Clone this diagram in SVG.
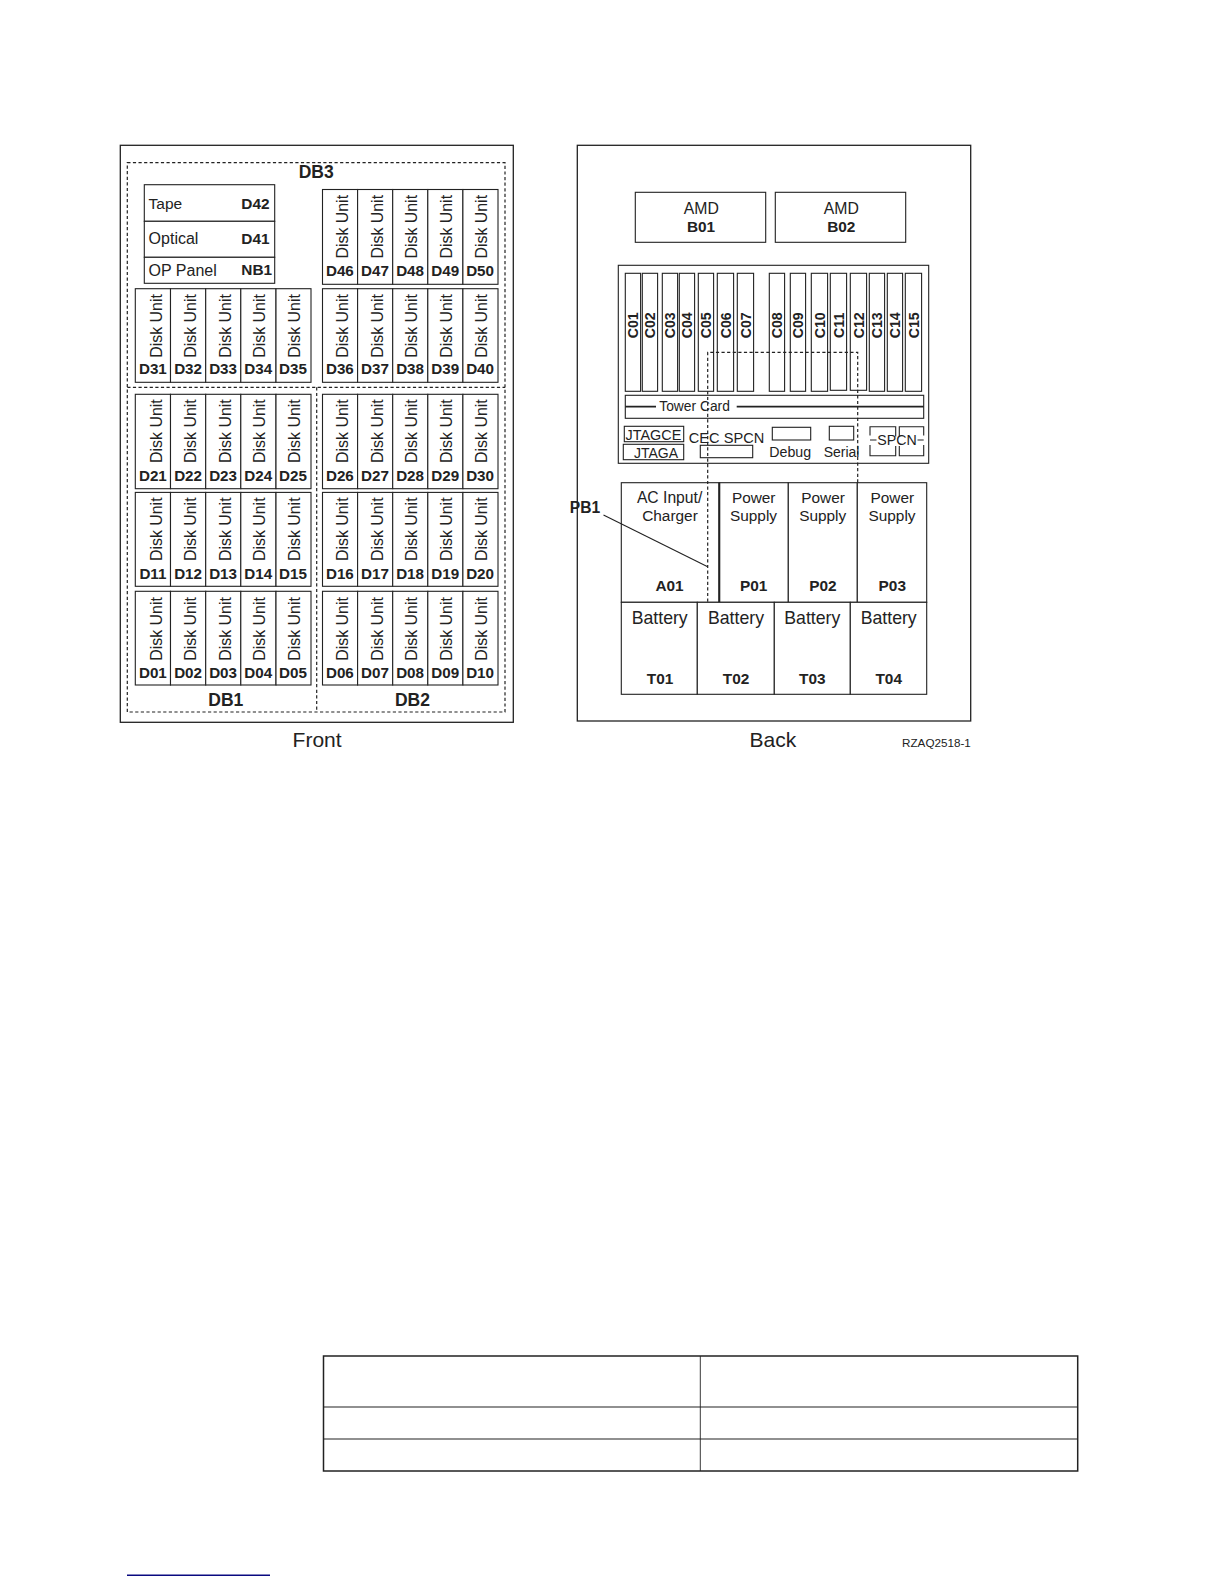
<svg xmlns="http://www.w3.org/2000/svg" width="1224" height="1584" viewBox="0 0 1224 1584">
<style>
text{font-family:"Liberation Sans",Arial,sans-serif;fill:#222;font-size:15px}
.b{font-weight:bold;font-size:15.4px}
.m{text-anchor:middle}
.f{fill:#fff;stroke:#222;stroke-width:1.1}
.n{fill:none;stroke:#222;stroke-width:1.1}
.o{fill:#fff;stroke:#222;stroke-width:1.3}
.d{fill:none;stroke:#222;stroke-width:1.2;stroke-dasharray:3.2 2.4}
.l{font-size:15.2px;font-weight:bold;text-anchor:middle}
.u{font-size:15.9px}
.c{font-size:14.2px;font-weight:bold;text-anchor:middle}
.db{font-size:17.5px;font-weight:bold;text-anchor:middle}
.p{text-anchor:middle;font-size:15.4px}
.bt{text-anchor:middle;font-size:17.7px}
.cap{font-size:21px}
</style>
<rect width="1224" height="1584" fill="#fff"/>
<g id="front">
<rect class="o" x="120.3" y="145.3" width="393" height="577"/>
<g id="DB-regions">
<rect class="d" x="127.3" y="162.7" width="377.7" height="549.3"/>
<path class="d" d="M127.3 387.3H505M316.7 387.3V712"/>
</g>
<text class="db" x="316.2" y="178.3">DB3</text>
<text class="db" x="225.8" y="706">DB1</text>
<text class="db" x="412.5" y="706">DB2</text>
<g id="D42"><rect class="f" x="144.3" y="184.7" width="130.4" height="36.6"/><text x="148.6" y="209" style="font-size:15.5px">Tape</text><text class="b" x="241.3" y="209">D42</text></g>
<g id="D41"><rect class="f" x="144.3" y="221.3" width="130.4" height="36"/><text x="148.6" y="244.3" style="font-size:16px">Optical</text><text class="b" x="241.3" y="243.7">D41</text></g>
<g id="NB1"><rect class="f" x="144.3" y="257.3" width="130.4" height="26"/><text x="148.6" y="275.7" style="font-size:16px">OP Panel</text><text class="b" x="241.3" y="275">NB1</text></g>

<g id="D46" transform="translate(322.5,189.5)"><rect class="f" width="35.1" height="94.8"/><text class="u" transform="translate(25.8,69) rotate(-90)">Disk Unit</text><text class="l" x="17.4" y="86.3">D46</text></g>
<g id="D47" transform="translate(357.6,189.5)"><rect class="f" width="35.1" height="94.8"/><text class="u" transform="translate(25.1,69) rotate(-90)">Disk Unit</text><text class="l" x="17.4" y="86.3">D47</text></g>
<g id="D48" transform="translate(392.7,189.5)"><rect class="f" width="35.1" height="94.8"/><text class="u" transform="translate(24.6,69) rotate(-90)">Disk Unit</text><text class="l" x="17.4" y="86.3">D48</text></g>
<g id="D49" transform="translate(427.8,189.5)"><rect class="f" width="35.1" height="94.8"/><text class="u" transform="translate(24.5,69) rotate(-90)">Disk Unit</text><text class="l" x="17.4" y="86.3">D49</text></g>
<g id="D50" transform="translate(462.9,189.5)"><rect class="f" width="35.1" height="94.8"/><text class="u" transform="translate(24.4,69) rotate(-90)">Disk Unit</text><text class="l" x="17.2" y="86.3">D50</text></g>

<g id="D31" transform="translate(135.3,288.7)"><rect class="f" width="35.2" height="93.6"/><text class="u" transform="translate(26.3,69) rotate(-90)">Disk Unit</text><text class="l" x="17.6" y="85.5">D31</text></g>
<g id="D32" transform="translate(170.5,288.7)"><rect class="f" width="35.2" height="93.6"/><text class="u" transform="translate(25.5,69) rotate(-90)">Disk Unit</text><text class="l" x="17.6" y="85.5">D32</text></g>
<g id="D33" transform="translate(205.7,288.7)"><rect class="f" width="35.1" height="93.6"/><text class="u" transform="translate(25,69) rotate(-90)">Disk Unit</text><text class="l" x="17.4" y="85.5">D33</text></g>
<g id="D34" transform="translate(240.8,288.7)"><rect class="f" width="35.2" height="93.6"/><text class="u" transform="translate(24.2,69) rotate(-90)">Disk Unit</text><text class="l" x="17.4" y="85.5">D34</text></g>
<g id="D35" transform="translate(276,288.7)"><rect class="f" width="35" height="93.6"/><text class="u" transform="translate(24,69) rotate(-90)">Disk Unit</text><text class="l" x="17" y="85.5">D35</text></g>
<g id="D36" transform="translate(322.5,288.7)"><rect class="f" width="35.1" height="93.6"/><text class="u" transform="translate(25.8,69) rotate(-90)">Disk Unit</text><text class="l" x="17.4" y="85.5">D36</text></g>
<g id="D37" transform="translate(357.6,288.7)"><rect class="f" width="35.1" height="93.6"/><text class="u" transform="translate(25.1,69) rotate(-90)">Disk Unit</text><text class="l" x="17.4" y="85.5">D37</text></g>
<g id="D38" transform="translate(392.7,288.7)"><rect class="f" width="35.1" height="93.6"/><text class="u" transform="translate(24.6,69) rotate(-90)">Disk Unit</text><text class="l" x="17.4" y="85.5">D38</text></g>
<g id="D39" transform="translate(427.8,288.7)"><rect class="f" width="35.1" height="93.6"/><text class="u" transform="translate(24.5,69) rotate(-90)">Disk Unit</text><text class="l" x="17.4" y="85.5">D39</text></g>
<g id="D40" transform="translate(462.9,288.7)"><rect class="f" width="35.1" height="93.6"/><text class="u" transform="translate(24.4,69) rotate(-90)">Disk Unit</text><text class="l" x="17.2" y="85.5">D40</text></g>

<g id="D21" transform="translate(135.3,394.3)"><rect class="f" width="35.2" height="94.4"/><text class="u" transform="translate(26.3,68.6) rotate(-90)">Disk Unit</text><text class="l" x="17.6" y="86.6">D21</text></g>
<g id="D22" transform="translate(170.5,394.3)"><rect class="f" width="35.2" height="94.4"/><text class="u" transform="translate(25.5,68.6) rotate(-90)">Disk Unit</text><text class="l" x="17.6" y="86.6">D22</text></g>
<g id="D23" transform="translate(205.7,394.3)"><rect class="f" width="35.1" height="94.4"/><text class="u" transform="translate(25,68.6) rotate(-90)">Disk Unit</text><text class="l" x="17.4" y="86.6">D23</text></g>
<g id="D24" transform="translate(240.8,394.3)"><rect class="f" width="35.2" height="94.4"/><text class="u" transform="translate(24.2,68.6) rotate(-90)">Disk Unit</text><text class="l" x="17.4" y="86.6">D24</text></g>
<g id="D25" transform="translate(276,394.3)"><rect class="f" width="35" height="94.4"/><text class="u" transform="translate(24,68.6) rotate(-90)">Disk Unit</text><text class="l" x="17" y="86.6">D25</text></g>
<g id="D26" transform="translate(322.5,394.3)"><rect class="f" width="35.1" height="94.4"/><text class="u" transform="translate(25.8,68.6) rotate(-90)">Disk Unit</text><text class="l" x="17.4" y="86.6">D26</text></g>
<g id="D27" transform="translate(357.6,394.3)"><rect class="f" width="35.1" height="94.4"/><text class="u" transform="translate(25.1,68.6) rotate(-90)">Disk Unit</text><text class="l" x="17.4" y="86.6">D27</text></g>
<g id="D28" transform="translate(392.7,394.3)"><rect class="f" width="35.1" height="94.4"/><text class="u" transform="translate(24.6,68.6) rotate(-90)">Disk Unit</text><text class="l" x="17.4" y="86.6">D28</text></g>
<g id="D29" transform="translate(427.8,394.3)"><rect class="f" width="35.1" height="94.4"/><text class="u" transform="translate(24.5,68.6) rotate(-90)">Disk Unit</text><text class="l" x="17.4" y="86.6">D29</text></g>
<g id="D30" transform="translate(462.9,394.3)"><rect class="f" width="35.1" height="94.4"/><text class="u" transform="translate(24.4,68.6) rotate(-90)">Disk Unit</text><text class="l" x="17.2" y="86.6">D30</text></g>

<g id="D11" transform="translate(135.3,492.4)"><rect class="f" width="35.2" height="93.9"/><text class="u" transform="translate(26.3,68.6) rotate(-90)">Disk Unit</text><text class="l" x="17.6" y="86.6">D11</text></g>
<g id="D12" transform="translate(170.5,492.4)"><rect class="f" width="35.2" height="93.9"/><text class="u" transform="translate(25.5,68.6) rotate(-90)">Disk Unit</text><text class="l" x="17.6" y="86.6">D12</text></g>
<g id="D13" transform="translate(205.7,492.4)"><rect class="f" width="35.1" height="93.9"/><text class="u" transform="translate(25,68.6) rotate(-90)">Disk Unit</text><text class="l" x="17.4" y="86.6">D13</text></g>
<g id="D14" transform="translate(240.8,492.4)"><rect class="f" width="35.2" height="93.9"/><text class="u" transform="translate(24.2,68.6) rotate(-90)">Disk Unit</text><text class="l" x="17.4" y="86.6">D14</text></g>
<g id="D15" transform="translate(276,492.4)"><rect class="f" width="35" height="93.9"/><text class="u" transform="translate(24,68.6) rotate(-90)">Disk Unit</text><text class="l" x="17" y="86.6">D15</text></g>
<g id="D16" transform="translate(322.5,492.4)"><rect class="f" width="35.1" height="93.9"/><text class="u" transform="translate(25.8,68.6) rotate(-90)">Disk Unit</text><text class="l" x="17.4" y="86.6">D16</text></g>
<g id="D17" transform="translate(357.6,492.4)"><rect class="f" width="35.1" height="93.9"/><text class="u" transform="translate(25.1,68.6) rotate(-90)">Disk Unit</text><text class="l" x="17.4" y="86.6">D17</text></g>
<g id="D18" transform="translate(392.7,492.4)"><rect class="f" width="35.1" height="93.9"/><text class="u" transform="translate(24.6,68.6) rotate(-90)">Disk Unit</text><text class="l" x="17.4" y="86.6">D18</text></g>
<g id="D19" transform="translate(427.8,492.4)"><rect class="f" width="35.1" height="93.9"/><text class="u" transform="translate(24.5,68.6) rotate(-90)">Disk Unit</text><text class="l" x="17.4" y="86.6">D19</text></g>
<g id="D20" transform="translate(462.9,492.4)"><rect class="f" width="35.1" height="93.9"/><text class="u" transform="translate(24.4,68.6) rotate(-90)">Disk Unit</text><text class="l" x="17.2" y="86.6">D20</text></g>

<g id="D01" transform="translate(135.3,591.3)"><rect class="f" width="35.2" height="93.7"/><text class="u" transform="translate(26.3,69.4) rotate(-90)">Disk Unit</text><text class="l" x="17.6" y="86.4">D01</text></g>
<g id="D02" transform="translate(170.5,591.3)"><rect class="f" width="35.2" height="93.7"/><text class="u" transform="translate(25.5,69.4) rotate(-90)">Disk Unit</text><text class="l" x="17.6" y="86.4">D02</text></g>
<g id="D03" transform="translate(205.7,591.3)"><rect class="f" width="35.1" height="93.7"/><text class="u" transform="translate(25,69.4) rotate(-90)">Disk Unit</text><text class="l" x="17.4" y="86.4">D03</text></g>
<g id="D04" transform="translate(240.8,591.3)"><rect class="f" width="35.2" height="93.7"/><text class="u" transform="translate(24.2,69.4) rotate(-90)">Disk Unit</text><text class="l" x="17.4" y="86.4">D04</text></g>
<g id="D05" transform="translate(276,591.3)"><rect class="f" width="35" height="93.7"/><text class="u" transform="translate(24,69.4) rotate(-90)">Disk Unit</text><text class="l" x="17" y="86.4">D05</text></g>
<g id="D06" transform="translate(322.5,591.3)"><rect class="f" width="35.1" height="93.7"/><text class="u" transform="translate(25.8,69.4) rotate(-90)">Disk Unit</text><text class="l" x="17.4" y="86.4">D06</text></g>
<g id="D07" transform="translate(357.6,591.3)"><rect class="f" width="35.1" height="93.7"/><text class="u" transform="translate(25.1,69.4) rotate(-90)">Disk Unit</text><text class="l" x="17.4" y="86.4">D07</text></g>
<g id="D08" transform="translate(392.7,591.3)"><rect class="f" width="35.1" height="93.7"/><text class="u" transform="translate(24.6,69.4) rotate(-90)">Disk Unit</text><text class="l" x="17.4" y="86.4">D08</text></g>
<g id="D09" transform="translate(427.8,591.3)"><rect class="f" width="35.1" height="93.7"/><text class="u" transform="translate(24.5,69.4) rotate(-90)">Disk Unit</text><text class="l" x="17.4" y="86.4">D09</text></g>
<g id="D10" transform="translate(462.9,591.3)"><rect class="f" width="35.1" height="93.7"/><text class="u" transform="translate(24.4,69.4) rotate(-90)">Disk Unit</text><text class="l" x="17.2" y="86.4">D10</text></g>
<text class="cap" x="292.6" y="747.3">Front</text>
</g>

<g id="back">
<rect class="o" x="577.3" y="145.3" width="393.4" height="575.7"/>
<g id="B01"><rect class="f" x="635.3" y="192.3" width="130.4" height="50"/><text class="m" x="701.3" y="213.7" style="font-size:15.8px">AMD</text><text class="b m" x="701" y="232">B01</text></g>
<g id="B02"><rect class="f" x="775.3" y="192.3" width="130.4" height="50"/><text class="m" x="841.3" y="213.7" style="font-size:15.8px">AMD</text><text class="b m" x="841.3" y="232">B02</text></g>
<rect class="f" x="618.3" y="265.3" width="310.4" height="198"/>
<g id="C01"><rect class="f" x="625.3" y="273.3" width="15.3" height="118"/><text class="c" transform="translate(638.3,325.3) rotate(-90)">C01</text></g>
<g id="C02"><rect class="f" x="642.3" y="273.3" width="15.3" height="118"/><text class="c" transform="translate(655.3,325.3) rotate(-90)">C02</text></g>
<g id="C03"><rect class="f" x="662.3" y="273.3" width="15.3" height="118"/><text class="c" transform="translate(675.3,325.3) rotate(-90)">C03</text></g>
<g id="C04"><rect class="f" x="679.3" y="273.3" width="15.3" height="118"/><text class="c" transform="translate(692.3,325.3) rotate(-90)">C04</text></g>
<g id="C05"><rect class="f" x="698.3" y="273.3" width="15.3" height="118"/><text class="c" transform="translate(711.3,325.3) rotate(-90)">C05</text></g>
<g id="C06"><rect class="f" x="717.3" y="273.3" width="16.3" height="118"/><text class="c" transform="translate(730.8,325.3) rotate(-90)">C06</text></g>
<g id="C07"><rect class="f" x="737.3" y="273.3" width="16.3" height="118"/><text class="c" transform="translate(750.8,325.3) rotate(-90)">C07</text></g>
<g id="C08"><rect class="f" x="769.3" y="273.3" width="15.3" height="118"/><text class="c" transform="translate(782.3,325.3) rotate(-90)">C08</text></g>
<g id="C09"><rect class="f" x="790.3" y="273.3" width="15.3" height="118"/><text class="c" transform="translate(803.3,325.3) rotate(-90)">C09</text></g>
<g id="C10"><rect class="f" x="811.3" y="273.3" width="16.3" height="118"/><text class="c" transform="translate(824.8,325.3) rotate(-90)">C10</text></g>
<g id="C11"><rect class="f" x="830.3" y="273.3" width="16.3" height="117"/><text class="c" transform="translate(843.8,325.3) rotate(-90)">C11</text></g>
<g id="C12"><rect class="f" x="850.3" y="273.3" width="16.3" height="117"/><text class="c" transform="translate(863.8,325.3) rotate(-90)">C12</text></g>
<g id="C13"><rect class="f" x="869.3" y="273.3" width="15.3" height="118"/><text class="c" transform="translate(882.3,325.3) rotate(-90)">C13</text></g>
<g id="C14"><rect class="f" x="887.3" y="273.3" width="15.3" height="118"/><text class="c" transform="translate(900.3,325.3) rotate(-90)">C14</text></g>
<g id="C15"><rect class="f" x="905.3" y="273.3" width="16.3" height="118"/><text class="c" transform="translate(918.8,325.3) rotate(-90)">C15</text></g>
<g id="tower-card"><rect class="f" x="625.3" y="395.3" width="298.4" height="23"/><path class="n" style="stroke-width:1.7" d="M625.3 406.7H656M736.7 406.7H923.7"/><text x="659.3" y="411" style="font-size:13.8px">Tower Card</text></g>
<g id="JTAGCE"><rect class="f" x="624.3" y="426.3" width="59.4" height="15.4"/><text x="625.6" y="440.3" style="font-size:14.4px">JTAGCE</text></g>
<g id="JTAGA"><rect class="f" x="623.3" y="444.3" width="60.4" height="15.4"/><text x="634" y="457.7" style="font-size:14px">JTAGA</text></g>
<g id="CEC-SPCN"><text x="688.8" y="442.7" style="font-size:14.6px">CEC SPCN</text><rect class="n" x="700.3" y="445.3" width="52.4" height="12.4"/></g>
<g id="Debug"><rect class="n" x="772.3" y="427.3" width="38.4" height="12.7"/><text x="769.3" y="457.3" style="font-size:14.2px">Debug</text></g>
<g id="Serial"><rect class="n" x="829.3" y="426.3" width="24.4" height="13.7"/><text x="823.7" y="457.3" style="font-size:14px">Serial</text></g>
<g id="SPCN"><path class="n" d="M870 435.5V426.7H895.7V436.5M895.7 446V455.7H870V445M870 440H876.5"/><path class="n" d="M899.3 436.5V426.7H923.7V435.5M923.7 445V455.7H899.3V446M917.5 440H923.7"/><text x="877.3" y="445" style="font-size:14.2px">SPCN</text></g>
<g id="A01"><rect class="f" x="621.3" y="482.7" width="98" height="119.6"/><text class="m" x="669.6" y="502.7" style="font-size:15.7px">AC Input/</text><text class="m" x="670" y="521.3" style="font-size:15.4px">Charger</text><text class="b m" x="669.5" y="590.7">A01</text></g>
<g id="P01"><rect class="f" x="719.3" y="482.7" width="69" height="119.6"/><path class="n" style="stroke-width:2" d="M719.3 482.7V602.3"/><text class="p" x="753.7" y="502.7">Power</text><text class="p" x="753.5" y="521.3">Supply</text><text class="b m" x="753.7" y="590.7">P01</text></g>
<g id="P02"><rect class="f" x="788.3" y="482.7" width="69" height="119.6"/><text class="p" x="823" y="502.7">Power</text><text class="p" x="822.7" y="521.3">Supply</text><text class="b m" x="823" y="590.7">P02</text></g>
<g id="P03"><rect class="f" x="857.3" y="482.7" width="69.4" height="119.6"/><text class="p" x="892.3" y="502.7">Power</text><text class="p" x="892" y="521.3">Supply</text><text class="b m" x="892.3" y="590.7">P03</text></g>
<g id="T01"><rect class="f" x="621.3" y="602.3" width="76" height="92"/><text class="bt" x="659.7" y="624">Battery</text><text class="b m" x="660" y="684">T01</text></g>
<g id="T02"><rect class="f" x="697.3" y="602.3" width="77" height="92"/><text class="bt" x="736" y="624">Battery</text><text class="b m" x="736" y="684">T02</text></g>
<g id="T03"><rect class="f" x="774.3" y="602.3" width="76" height="92"/><text class="bt" x="812.3" y="624">Battery</text><text class="b m" x="812.3" y="684">T03</text></g>
<g id="T04"><rect class="f" x="850.3" y="602.3" width="76.4" height="92"/><text class="bt" x="888.7" y="624">Battery</text><text class="b m" x="888.7" y="684">T04</text></g>
<g id="connectors">
<path class="d" d="M707.7 601.7V352.3H857.7V482.7"/>
<path class="n" d="M603.5 515L707.7 566.7"/>
</g>
<g id="PB1"><text class="b" x="569.8" y="513.3" style="font-size:15.6px">PB1</text></g>
<text class="cap" x="749.6" y="747.3">Back</text>
<text x="902" y="746.7" style="font-size:11.7px">RZAQ2518-1</text>
</g>

<g id="table">
<rect x="323.5" y="1356" width="754.2" height="115" fill="none" stroke="#222" stroke-width="1.5"/>
<path d="M323.5 1407H1077.7M323.5 1439H1077.7" stroke="#222" stroke-width="1.2" fill="none"/>
<path d="M700.3 1356V1471" stroke="#222" stroke-width="0.9" fill="none"/>
</g>
<path id="footer-rule" d="M127 1575.3H270" stroke="#0a0a80" stroke-width="1.4" fill="none"/>
</svg>
